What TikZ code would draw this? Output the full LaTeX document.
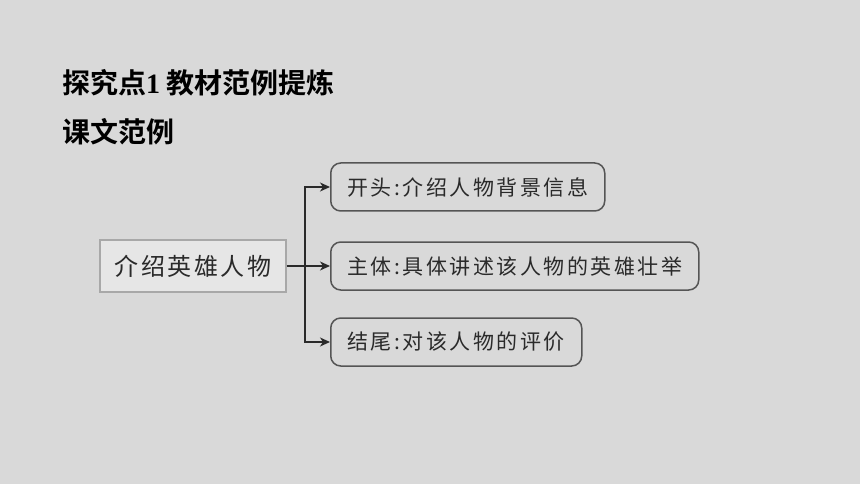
\documentclass[tikz,border=0pt]{standalone}
\usepackage{fontspec}
\setmainfont{Noto Sans CJK SC}
\newfontfamily\cjk{Noto Sans CJK SC}
\newfontfamily\cjkbold{Noto Sans CJK SC Bold}
\newfontfamily\tnr{Liberation Serif}
\newfontfamily\cjkspaced{Noto Sans CJK SC}[LetterSpace=11]
\newfontfamily\cjkboxes{Noto Sans CJK SC}[LetterSpace=12]
\usetikzlibrary{arrows.meta}
\definecolor{bg}{HTML}{D9D9D9}
\definecolor{mainfill}{HTML}{E6E6E6}
\definecolor{mainedge}{HTML}{A8A8A8}
\definecolor{boxedge}{HTML}{555555}
\definecolor{ink}{HTML}{2A2A2A}
\tikzset{
  heading/.style={anchor=west, inner sep=0pt, text=black, font=\cjkbold\fontsize{28}{32}\selectfont},
  mainbox/.style={draw=mainedge, fill=mainfill, line width=1.2pt, minimum width=186pt, minimum height=52pt, inner sep=0pt, text=ink, font=\cjkspaced\fontsize{24}{28}\selectfont},
  partbox/.style={draw=boxedge, fill=bg, line width=1.5pt, rounded corners=10pt, minimum height=48pt, inner sep=0pt, anchor=west, text=ink, font=\cjkboxes\fontsize{21}{25}\selectfont},
  link/.style={draw=ink, line width=1.3pt, -{Stealth[length=10pt,width=9pt,inset=3pt]}},
}
\begin{document}
\begin{tikzpicture}[x=1pt,y=-1pt]
\fill[bg] (0,0) rectangle (860,484);
\useasboundingbox (0,0) rectangle (860,484);
\node[heading] (h1) at (62,83) {探究点{\tnr\bfseries 1}\hspace{6pt}教材范例提炼};
\node[heading] (h2) at (62,132) {课文范例};
\node[mainbox] (m) at (193,266) {介绍英雄人物};
\node[partbox, minimum width=274pt] (b1) at (330,187) {开头:介绍人物背景信息};
\node[partbox, minimum width=368pt] (b2) at (330,266) {主体:具体讲述该人物的英雄壮举};
\node[partbox, minimum width=251pt] (b3) at (330,342) {结尾:对该人物的评价};
\coordinate (fork) at (305,266);
\draw[link] (m.east) -- (b2.west);
\draw[link] (fork) |- (b1.west);
\draw[link] (fork) |- (b3.west);
\end{tikzpicture}
\end{document}
